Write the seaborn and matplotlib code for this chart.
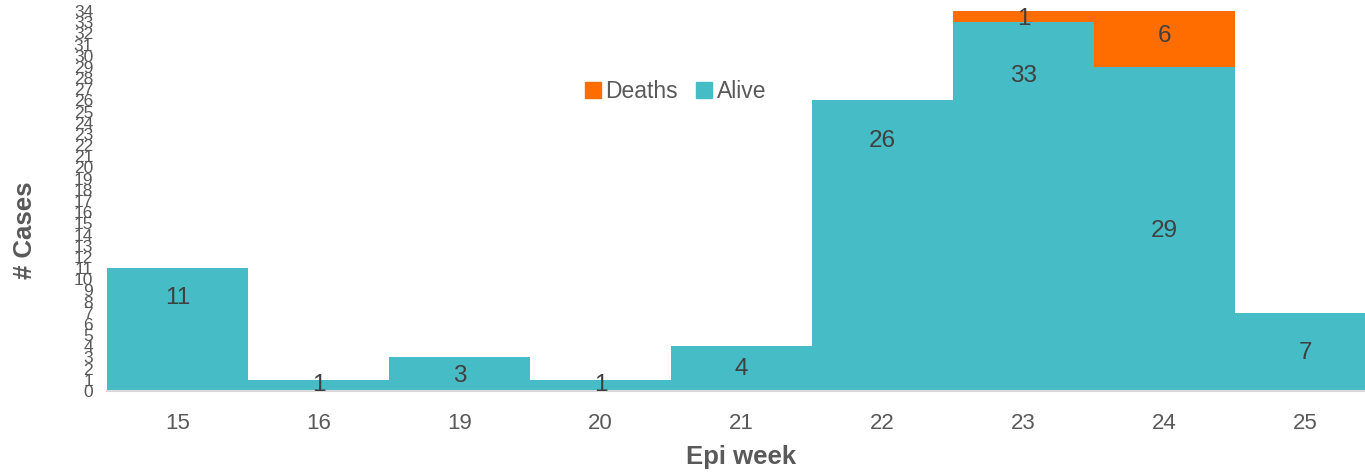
import matplotlib
matplotlib.use("Agg")
import matplotlib.pyplot as plt
import pandas as pd
import seaborn as sns
from matplotlib.patches import Patch

weeks = ["15", "16", "19", "20", "21", "22", "23", "24", "25"]
alive = [11, 1, 3, 1, 4, 26, 33, 29, 7]
deaths = [0, 0, 0, 0, 0, 0, 1, 6, 0]

# where the labels sit in the source chart (data units, not centred)
alive_label_y = [8.3, 0.5, 1.35, 0.5, 2.0, 22.4, 28.2, 14.3, 3.4]
death_label_y = [None, None, None, None, None, None, 33.3, 31.8, None]

TEAL = "#46BCC6"
ORANGE = "#FF6D00"
GREY = "#595959"

df = pd.DataFrame({"week": weeks, "alive": alive, "deaths": deaths})
df["total"] = df["alive"] + df["deaths"]

sns.set_style("white")
plt.rcParams["font.family"] = ["Liberation Sans", "DejaVu Sans"]

fig = plt.figure(figsize=(13.65, 4.72), dpi=100)
# last category is cut off by the figure edge, as in the source
ax = fig.add_axes([0.0784, 0.1716, 0.9297, 0.8051])

# stacked: total in orange underneath, alive in teal on top
sns.barplot(data=df, x="week", y="total", color=ORANGE, width=1.0,
            saturation=1, edgecolor="none", linewidth=0, ax=ax)
sns.barplot(data=df, x="week", y="alive", color=TEAL, width=1.0,
            saturation=1, edgecolor="none", linewidth=0, ax=ax)

for i, (a, ly) in enumerate(zip(alive, alive_label_y)):
    ax.text(i, ly, str(a), ha="center", va="center", fontsize=17.5, color="#404040")
for i, (d, ly) in enumerate(zip(deaths, death_label_y)):
    if d:
        ax.text(i, ly, str(d), ha="center", va="center", fontsize=17.5, color="#404040")

ax.set_xlim(-0.5, len(weeks) - 0.5)
ax.set_ylim(0, 34)
ax.set_yticks(range(0, 35))
ax.tick_params(axis="y", labelsize=12.5, colors=GREY, length=0, pad=10)
ax.tick_params(axis="x", labelsize=16, colors=GREY, length=0, pad=16)

for side in ["top", "right", "left"]:
    ax.spines[side].set_visible(False)
ax.spines["bottom"].set_color("#d9d9d9")
ax.spines["bottom"].set_linewidth(1.5)

ax.set_xlabel("Epi week", fontsize=18.5, fontweight="bold", color=GREY, labelpad=8)
ax.set_ylabel("# Cases", fontsize=18.5, fontweight="bold", color=GREY, va="center")
ax.yaxis.set_label_coords(-0.0645, 0.424)

handles = [Patch(color=ORANGE, label="Deaths"), Patch(color=TEAL, label="Alive")]
ax.legend(handles=handles, loc="center", bbox_to_anchor=(0.448, 0.787), ncol=2,
          frameon=False, fontsize=16.5, handlelength=0.7, handleheight=0.7,
          handletextpad=0.2, columnspacing=0.8, labelcolor=GREY)

fig.savefig("out.png", dpi=100)
